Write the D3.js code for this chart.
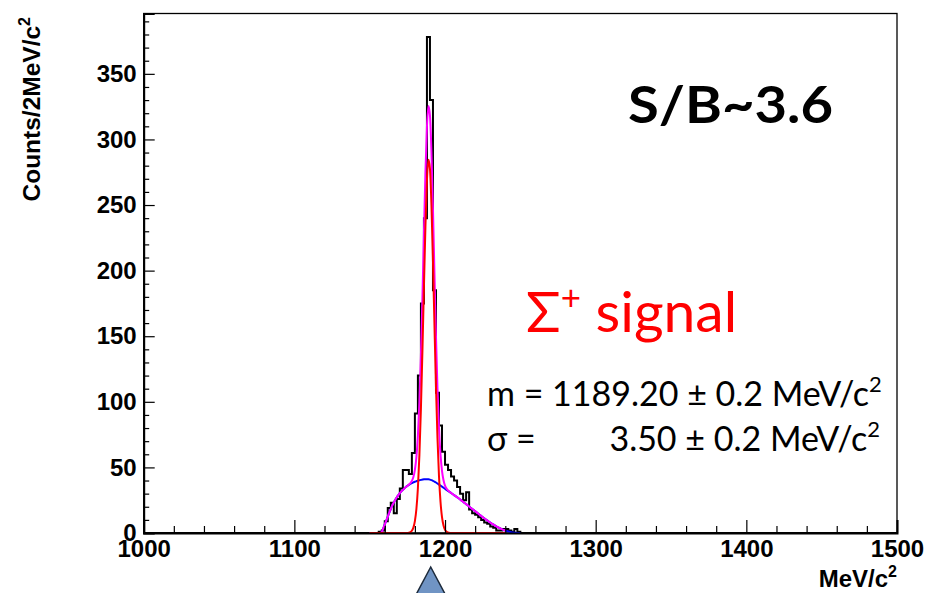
<!DOCTYPE html>
<html><head><meta charset="utf-8">
<script src="https://cdn.jsdelivr.net/npm/d3@7"></script>
<style>
html,body{margin:0;padding:0;background:#fff;}
svg{display:block;}
</style></head>
<body>
<script>
// ---------------- data ----------------
const xDomain = [1000, 1500];
const yDomain = [0, 396];
const xMajorTicks = [1000, 1100, 1200, 1300, 1400, 1500];
const yMajorTicks = [0, 50, 100, 150, 200, 250, 300, 350];
const binStart = 1150, binWidth = 2;
// counts per 2 MeV bin, bins starting at 1150, 1152, ... 1248
const counts = [0,0,0,1,2,9,19,23,15,26,34,48,48,45,61,91,120,175,240,378,
                330,185,107,82,62,52,48,43,40,35,30,25,31,18,15,14,12,10,8,7,
                5,4,2,2,3,3,2,1,3,1];
// fit curves sampled every 1 MeV from 1150 to 1250
const fitStart = 1150;
const signalFit = [0,0,0,0,0,0,0,0,0,0, 0,0,0,0,0,0,0,0,0,0, 0,0,0,0,0,0,0.23,0.66,1.7,4.1,
                   9.0,18.3,34.3,59.4,94.5,138.7,187.6,233.9,268.7,284.5, 277.6,249.7,206.9,158.1,111.3,72.2,43.2,23.8,12.1,5.7,
                   2.4,0.97,0.35,0.1,0,0,0,0,0,0, 0,0,0,0,0,0,0,0,0,0,
                   0,0,0,0,0,0,0,0,0,0, 0,0,0,0,0,0,0,0,0,0, 0];
const backgroundFit = [0,0,0,0,0,0,0,0,0.8,3.5, 6.5,9.5,12.5,15.5,18.3,21,23.3,25.3,27.2,28.9,
                   30.4,31.7,32.9,34,35,35.9,36.7,37.4,38,38.6, 39.1,39.5,39.9,40.2,40.5,40.7,40.9,41,41,40.9,
                   40.7,40.3,39.8,39.2,38.5,37.7,36.9,36.1,35.3,34.5, 33.7,32.9,32.1,31.3,30.5,29.7,28.9,28.1,27.3,26.5,
                   25.6,24.7,23.8,22.9,22,21.1,20.2,19.3,18.4,17.5, 16.6,15.7,14.8,13.9,13,12.1,11.2,10.4,9.6,8.8,
                   8,7.2,6.5,5.8,5.1,4.5,3.9,3.3,2.8,2.3, 1.9,1.5,1.2,0.9,0.6,0.4,0.2,0.1,0,0, 0];
const markerMass = [1190.5];

// ---------------- layout ----------------
const W = 942, H = 593;
const M = {left: 143.7, right: 897, top: 13.5, bottom: 533};
const svg = d3.select("body").append("svg").attr("width", W).attr("height", H);
const x = d3.scaleLinear().domain(xDomain).range([M.left, M.right]);
const y = d3.scaleLinear().domain(yDomain).range([M.bottom, M.top]);

const rootFont = "'Liberation Sans', Arial, sans-serif";
const calFont = "Lato, 'Open Sans', sans-serif";

// frame
svg.append("rect").attr("x", M.left).attr("y", M.top)
   .attr("width", M.right - M.left).attr("height", M.bottom - M.top)
   .attr("fill", "none").attr("stroke", "#000").attr("stroke-width", 1.3);

// histogram
const histPts = [[xDomain[0], 0]];
counts.forEach((c, i) => histPts.push([binStart + i * binWidth, c]));
histPts.push([binStart + counts.length * binWidth, 0]);
histPts.push([xDomain[1], 0]);
const stepLine = d3.line().x(d => x(d[0])).y(d => y(d[1])).curve(d3.curveStepAfter);
svg.append("path").attr("d", stepLine(histPts)).attr("fill", "none")
   .attr("stroke", "#000").attr("stroke-width", 2);

// fit curves
const fitLine = d3.line().x(d => x(d[0])).y(d => y(d[1])).curve(d3.curveMonotoneX);
const bgPts = backgroundFit.map((v, i) => [fitStart + i, v]);
const sigPts = signalFit.map((v, i) => [fitStart + i, v]);
const totPts = signalFit.map((v, i) => [fitStart + i, v + backgroundFit[i]]);
svg.append("path").attr("d", fitLine(bgPts)).attr("fill", "none").attr("stroke", "#0000ff").attr("stroke-width", 2);
svg.append("path").attr("d", fitLine(totPts)).attr("fill", "none").attr("stroke", "#ff00ff").attr("stroke-width", 2);
svg.append("path").attr("d", fitLine(sigPts)).attr("fill", "none").attr("stroke", "#ff0000").attr("stroke-width", 2);

// axes
const xMinor = d3.range(xDomain[0], xDomain[1] + 0.1, 20).filter(v => !xMajorTicks.includes(v));
const yMinor = d3.range(0, yDomain[1], 10).filter(v => !yMajorTicks.includes(v));
const gx = svg.append("g").attr("transform", `translate(0,${M.bottom})`)
  .call(d3.axisBottom(x).tickValues(xMajorTicks).tickSize(-13).tickPadding(7).tickFormat(d3.format("d")));
svg.append("g").attr("transform", `translate(0,${M.bottom})`)
  .call(d3.axisBottom(x).tickValues(xMinor).tickSize(-7).tickFormat(""))
  .call(g => g.select(".domain").remove());
const gy = svg.append("g").attr("transform", `translate(${M.left},0)`)
  .call(d3.axisLeft(y).tickValues(yMajorTicks).tickSize(-11).tickPadding(7).tickFormat(d3.format("d")));
svg.append("g").attr("transform", `translate(${M.left},0)`)
  .call(d3.axisLeft(y).tickValues(yMinor).tickSize(-5.5).tickFormat(""))
  .call(g => g.select(".domain").remove());
svg.selectAll(".tick line").attr("stroke", "#000").attr("stroke-width", 1.2);
svg.selectAll(".domain").attr("stroke", "#000").attr("stroke-width", 2);
gx.selectAll("text").attr("font-family", rootFont).attr("font-weight", "bold")
  .attr("font-size", 24).attr("fill", "#000").attr("dy", "0.71em");
gy.selectAll("text").attr("font-family", rootFont).attr("font-weight", "bold")
  .attr("font-size", 24).attr("fill", "#000");

// axis titles
const xt = svg.append("text").attr("x", M.right).attr("y", 587).attr("text-anchor", "end")
  .attr("font-family", rootFont).attr("font-weight", "bold").attr("font-size", 24);
xt.append("tspan").text("MeV/c");
xt.append("tspan").attr("font-size", 16).attr("dy", -10).text("2");

const yt = svg.append("text").attr("transform", "translate(40,17) rotate(-90)")
  .attr("text-anchor", "end").attr("font-family", rootFont).attr("font-weight", "bold").attr("font-size", 24.5);
yt.append("tspan").text("Counts/2MeV/c");
yt.append("tspan").attr("font-size", 16).attr("dy", -10).text("2");

// annotations
svg.append("text").attr("x", 628).attr("y", 123).attr("font-family", calFont)
  .attr("font-weight", "bold").attr("font-size", 52).attr("fill", "#000")
  .attr("textLength", 205).attr("lengthAdjust", "spacingAndGlyphs").text("S/B~3.6");

const sg = svg.append("text").attr("x", 526).attr("y", 332).attr("font-family", calFont)
  .attr("font-size", 57).attr("fill", "#ff0000");
sg.append("tspan").text("Σ");
sg.append("tspan").attr("font-size", 35).attr("dy", -22).text("+");
sg.append("tspan").attr("dy", 22).text(" signal");

const l1 = svg.append("text").attr("x", 487).attr("y", 406).attr("font-family", calFont)
  .attr("font-size", 34).attr("fill", "#000");
l1.append("tspan").text("m = 1189.20 ± 0.2 MeV/c");
l1.append("tspan").attr("font-size", 22).attr("dy", -14).text("2");

svg.append("text").attr("x", 487).attr("y", 451).attr("font-family", calFont)
  .attr("font-size", 34).attr("fill", "#000").text("σ =");
const l2 = svg.append("text").attr("x", 880).attr("y", 451).attr("text-anchor", "end")
  .attr("font-family", calFont).attr("font-size", 34).attr("fill", "#000");
l2.append("tspan").text("3.50 ± 0.2 MeV/c");
l2.append("tspan").attr("font-size", 22).attr("dy", -14).text("2");

// marker triangle below axis
markerMass.forEach(m => {
  const cx = x(m), top = 567;
  svg.append("path").attr("d", `M${cx},${top} L${cx + 17},${top + 32} L${cx - 17},${top + 32} Z`)
    .attr("fill", "#7094c4").attr("stroke", "#1d2b3c").attr("stroke-width", 1.5);
});
</script>
</body></html>
